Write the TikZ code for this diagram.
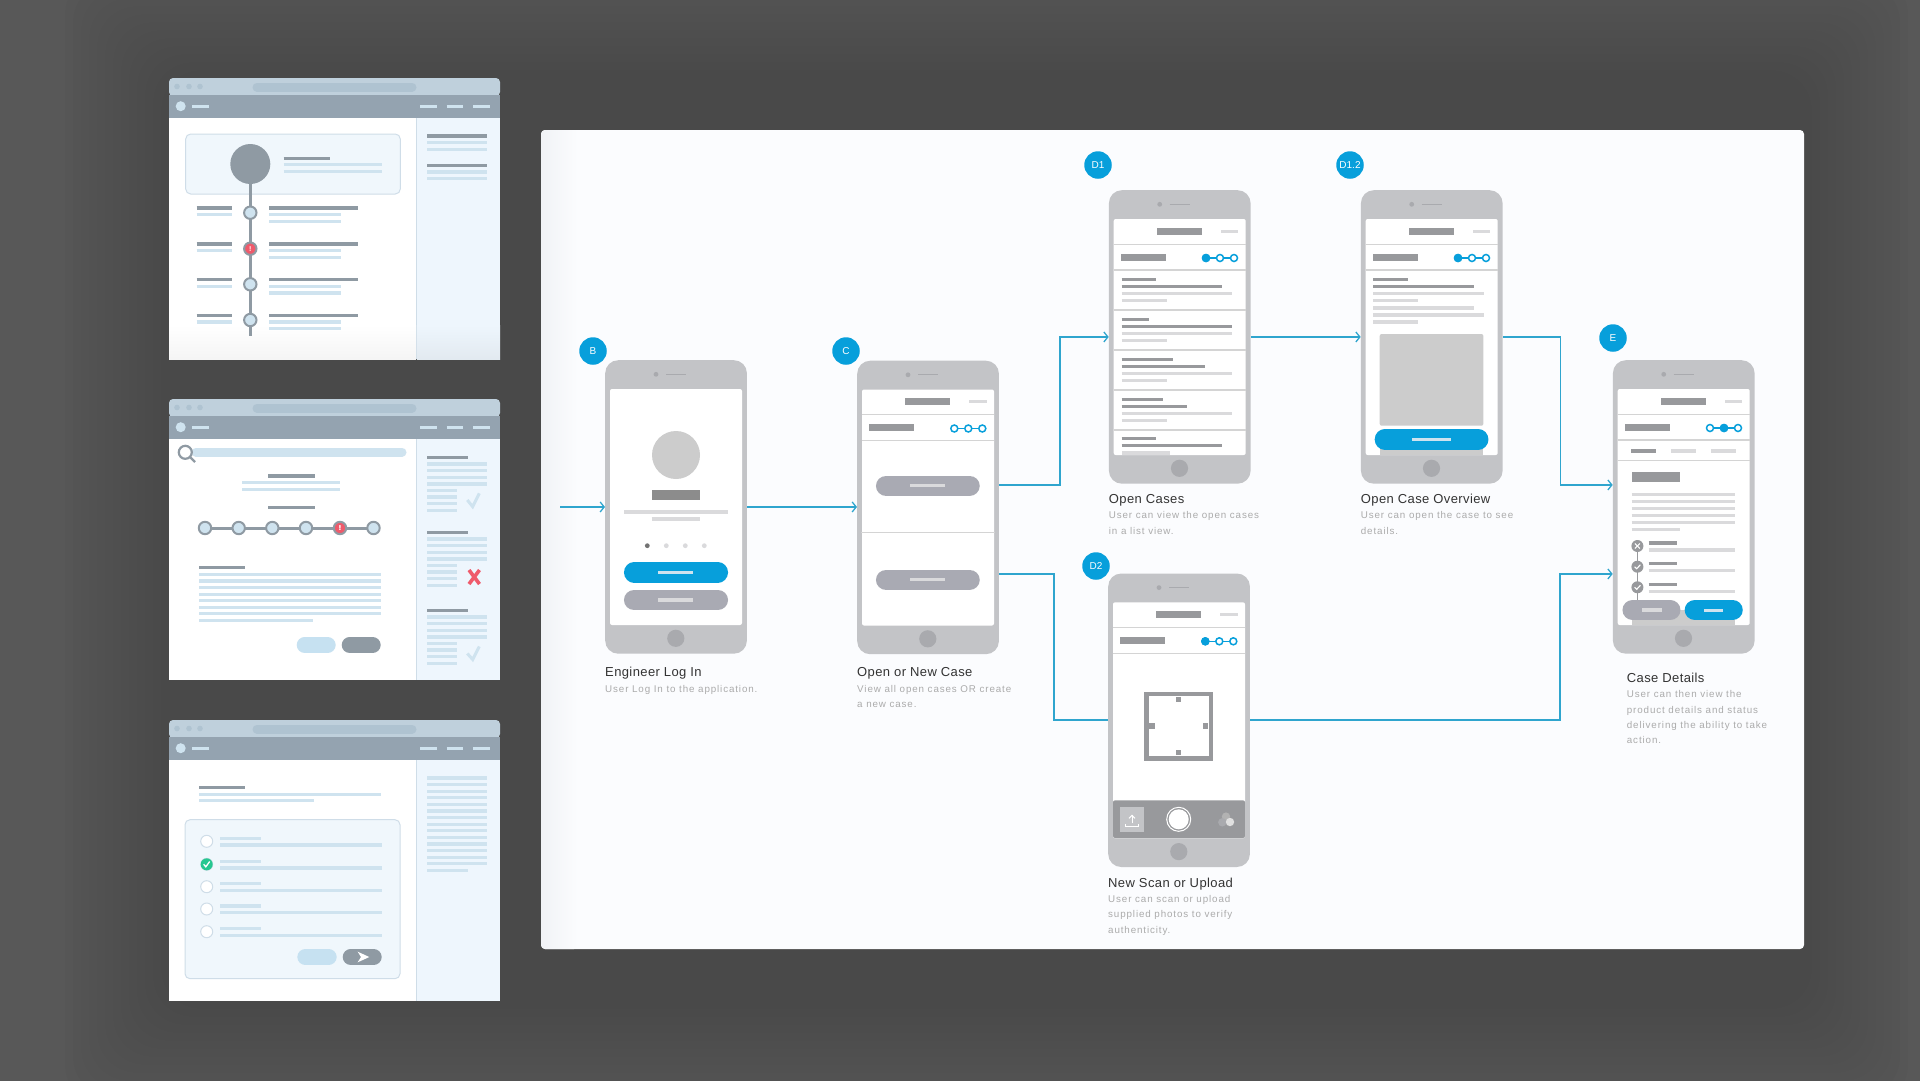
\documentclass[tikz,border=0pt]{standalone}
\usepackage{fontspec}
\setmainfont{Liberation Sans}
\newfontfamily\capfont[LetterSpace=3]{Liberation Sans}
\newfontfamily\notefont[LetterSpace=9]{Liberation Sans}
\usetikzlibrary{arrows.meta, calc, positioning}

\definecolor{bgdark}{HTML}{585858}
\definecolor{panelbg}{HTML}{FBFCFE}
\definecolor{panelside}{HTML}{F1F3F6}
\definecolor{wintitle}{HTML}{BFD0DC}
\definecolor{winurl}{HTML}{AFC3D1}
\definecolor{winnav}{HTML}{94A3B0}
\definecolor{windark}{HTML}{8F9AA3}
\definecolor{winlight}{HTML}{CFE3EF}
\definecolor{winside}{HTML}{EEF6FD}
\definecolor{wincard}{HTML}{F0F7FC}
\definecolor{winedge}{HTML}{CFDDE8}
\definecolor{winbtn}{HTML}{C6E1F1}
\definecolor{alertred}{HTML}{EF5A6B}
\definecolor{okgreen}{HTML}{26C790}
\definecolor{phbody}{HTML}{C3C4C7}
\definecolor{phmark}{HTML}{A9AAAE}
\definecolor{phdark}{HTML}{98999C}
\definecolor{phlight}{HTML}{DADADC}
\definecolor{phblue}{HTML}{079FDB}
\definecolor{phpillgrey}{HTML}{A9AAB3}
\definecolor{flowline}{HTML}{2FA5CE}

\tikzset{
  windk/.style={draw=windark, line width=3.1pt},
  winlt/.style={draw=winlight, line width=3.1pt},
  navlt/.style={draw=winlight, line width=3pt},
  winpill/.style={line width=16pt, line cap=round},
  phonebody/.style={anchor=north west, fill=phbody, rounded corners=13pt, minimum width=141.7pt, minimum height=293.5pt, inner sep=0pt},
  phdk/.style={draw=phdark, line width=3.1pt},
  phlt/.style={draw=phlight, line width=3.1pt},
  phrule/.style={draw=black!17, line width=1.1pt},
  phpill/.style={line width=20.5pt, line cap=round},
  badge/.style={circle, fill=phblue, minimum size=27.5pt, inner sep=0pt, text=white, font=\fontsize{10}{11}\selectfont},
  caption/.style={anchor=base west, inner sep=0pt, text=black!80, font=\capfont\fontsize{13}{15}\selectfont},
  note/.style={anchor=north west, inner sep=0pt, align=left, text=black!33, font=\notefont\fontsize{9.8}{15.3}\selectfont},
  flow/.style={draw=flowline, line width=1.7pt},
  flowtip/.style={flow, -{Straight Barb[length=4pt, width=10pt, line width=1.3pt]}},
}

% browser window, #1 is its top edge
\newcommand{\browserframe}[1]{
  \begin{scope}[shift={(0,#1)}]
    \fill[white] (169,17) rectangle (500,281);
    \fill[winside] (416,39) rectangle (500,281);
    \draw[winedge, line width=1pt] (416,39) -- (416,281);
    \fill[wintitle, rounded corners=4pt] (169,18) -- (169,0) -- (500,0) -- (500,18) -- cycle;
    \draw[winurl, line width=9pt, line cap=round] (257,9) -- (412,9);
    \foreach \dotx in {177,189,200}
      \fill[winurl] (\dotx,8.5) circle (2.8pt);
    \fill[winnav] (169,17) rectangle (500,39.5);
    \fill[winlight] (180.7,28.2) circle (5pt);
    \draw[navlt] (192,28.2) -- (208.7,28.2);
    \foreach \navx in {420.3,446.5,473}
      \draw[navlt] (\navx,28.2) -- ({\navx+16.5},28.2);
  \end{scope}
}
% camera, speaker, screen and home key, inside a phone's scope
\newcommand{\phoneparts}{
  \fill[phmark] (51,14.3) circle (2.4pt);
  \draw[phmark, line width=.9pt] (61,14.3) -- (81,14.3);
  \fill[white, rounded corners=2pt] (5,29) rectangle (137,265);
  \fill[phmark] (70.8,278.3) circle (8.6pt);
}
% title bars and the three stage rings
\newcommand{\phonehead}{
  \fill[phdark] (48.3,37.8) rectangle (93,44.8);
  \draw[phlt] (112.3,41.3) -- (129.7,41.3);
  \fill[phdark] (12,63.8) rectangle (57,70.8);
  \draw[phrule] (5,54.3) -- (137,54.3);
  \draw[phrule] (5,80) -- (137,80);
  \draw[phblue, line width=1.5pt] (97.3,68) -- (125.3,68);
  \foreach \ringx in {97.3,111.3,125.3}
    \draw[phblue, fill=white, line width=1.5pt] (\ringx,68) circle (3.5pt);
}
\newcommand{\winbubble}[3]{
  \draw[windark, line width=2pt, fill=#3] (#1,#2) circle (6.2pt);
}

\begin{document}
\begin{tikzpicture}[x=1pt, y=-1pt]
  \useasboundingbox (0,0) rectangle (1920,1080);
  \fill[bgdark] (-5,-5) rectangle (1925,1085);
  \foreach \spread in {8,16,...,104}
    \fill[black, opacity=.012, rounded corners=40pt] ({169-\spread},{78-\spread}) rectangle ({1804+\spread},{1001+\spread});

  % first window
  \browserframe{78}
  \shade[top color=white, bottom color=black!4] (169,325) rectangle (416,359);
  \shade[top color=winside, bottom color=black!5!winside] (417,325) rectangle (500,359);
  \draw[winedge, line width=1pt, fill=wincard, rounded corners=5pt] (185.7,134) rectangle (400.3,194);
  \draw[windark, line width=3pt] (250.3,164) -- (250.3,336);
  \fill[windark] (250.3,164) circle (20pt);
  \draw[windk] (283.7,158.3) -- (329.7,158.3);
  \foreach \liney in {164.7,171.3}
    \draw[winlt] (283.7,\liney) -- (381.7,\liney);
  \foreach \liney in {136,165.7}
    \draw[windk] (427,\liney) -- (487,\liney);
  \foreach \liney in {142.3,149.3,172,178.7}
    \draw[winlt] (427,\liney) -- (487,\liney);
  \foreach \rowy/\bub in {212.7/winlight,248.7/alertred,284.3/winlight,320/winlight} {
    \draw[windk] (196.7,\rowy-4.7) -- (231.7,\rowy-4.7);
    \draw[winlt] (196.7,\rowy+2) -- (231.7,\rowy+2);
    \draw[windk] (269,\rowy-4.7) -- (358.3,\rowy-4.7);
    \draw[winlt] (269,\rowy+2) -- (341,\rowy+2);
    \draw[winlt] (269,\rowy+8.7) -- (341,\rowy+8.7);
    \winbubble{250.3}{\rowy}{\bub}
  }
  \node[inner sep=0pt, text=white, font=\bfseries\fontsize{7}{7}\selectfont] (alertA) at (250.3,248.7) {!};

  % second window
  \browserframe{399}
  \draw[winlight, line width=9pt, line cap=round] (196,452) -- (402,452);
  \draw[windark, line width=2.2pt, fill=white] (185.3,452.3) circle (6.5pt);
  \draw[windark, line width=2.2pt] (190,457) -- (195,462);
  \foreach \liney in {476,507.7}
    \draw[windk] (268.3,\liney) -- (315,\liney);
  \foreach \liney in {482.7,489.3}
    \draw[winlt] (242,\liney) -- (340.3,\liney);
  \draw[windark, line width=3pt] (205,528) -- (373.5,528);
  \foreach \stopx/\bub in {205/winlight,238.7/winlight,272.3/winlight,306/winlight,340/alertred,373.5/winlight}
    \winbubble{\stopx}{528}{\bub}
  \node[inner sep=0pt, text=white, font=\bfseries\fontsize{7}{7}\selectfont] (alertB) at (340,528) {!};
  \draw[windk] (199,567.7) -- (245,567.7);
  \foreach \liney in {574.3,581,587.5,594.3,600.7,607.3,613.7}
    \draw[winlt] (199,\liney) -- (380.7,\liney);
  \draw[winlt] (199,620.3) -- (313,620.3);
  \draw[winbtn, winpill] (304.7,645) -- (327.7,645);
  \draw[windark, winpill] (349.7,645) -- (372.7,645);
  \foreach \blocky in {457.3,532.3,610.3} {
    \draw[windk] (427,\blocky) -- (468.3,\blocky);
    \foreach \stepy in {6.7,13.2,20,26.7}
      \draw[winlt] (427,\blocky+\stepy) -- (487,\blocky+\stepy);
    \foreach \stepy in {33,39.7,46.2,52.9}
      \draw[winlt] (427,\blocky+\stepy) -- (457,\blocky+\stepy);
  }
  \draw[winlight, line width=3pt] (467.3,500) -- (472.7,506.7) -- (479.3,493.3);
  \draw[winlight, line width=3pt] (467.3,653.5) -- (472.7,659.5) -- (479.3,646.5);
  \draw[alertred, line width=3.6pt] (469,570) -- (479.5,584);
  \draw[alertred, line width=3.6pt] (479.5,570) -- (469,584);

  % third window
  \browserframe{720}
  \draw[windk] (199,787.7) -- (245,787.7);
  \draw[winlt] (199,794.3) -- (380.7,794.3);
  \draw[winlt] (199,800.7) -- (314,800.7);
  \draw[winedge, line width=1pt, fill=wincard, rounded corners=5pt] (185,819.7) rectangle (400,978.7);
  \foreach \liney in {778,784.6,...,864}
    \draw[winlt] (427,\liney) -- (487,\liney);
  \draw[winlt] (427,870.3) -- (468,870.3);
  \foreach \rowy in {841.3,864.3,886.7,909,931.7} {
    \draw[winedge, line width=1pt, fill=white] (206.7,\rowy) circle (6pt);
    \draw[winlt] (220,\rowy-3) -- (260.7,\rowy-3);
    \draw[winlt] (220,\rowy+3.7) -- (381.7,\rowy+3.7);
  }
  \fill[okgreen] (206.7,864.3) circle (6pt);
  \draw[white, line width=1.3pt] (203.7,864.3) -- (205.8,866.8) -- (209.7,861.5);
  \draw[winbtn, winpill] (305.3,957) -- (328.7,957);
  \draw[windark, winpill] (350.7,957) -- (373.7,957);
  \fill[white] (357.7,951.7) -- (369.3,957) -- (357.7,962.3) -- (361,957) -- cycle;

  % sheet behind the phones
  \fill[panelbg, rounded corners=4pt] (541,130) rectangle (1804,949);
  \shade[left color=panelside, right color=panelbg, rounded corners=4pt] (541,130) rectangle (578,949);

  \node[phonebody] (B) at (605,360) {};
  \node[phonebody] (C) at (857,360.5) {};
  \node[phonebody] (D1) at (1108.7,190) {};
  \node[phonebody] (D12) at (1360.7,190) {};
  \node[phonebody] (D2) at (1108,573.3) {};
  \node[phonebody] (E) at (1612.7,360) {};

  \node[badge] (tagB) at (593,351) {B};
  \node[badge] (tagC) at (846,351) {C};
  \node[badge] (tagD1) at (1098,165) {D1};
  \node[badge] (tagD12) at (1350,165) {D1.2};
  \node[badge] (tagD2) at (1096,566) {D2};
  \node[badge] (tagE) at (1613,338) {E};

  \begin{scope}[shift={(B.north west)}]
    \phoneparts
    \fill[black!20] (71,95) circle (24pt);
    \fill[black!45] (46.7,129.7) rectangle (95.3,140);
    \draw[phlt] (19,152) -- (123,152);
    \draw[phlt] (46.7,159) -- (95.3,159);
    \fill[black!55] (42.3,185.7) circle (2.4pt);
    \foreach \dotx in {61.3,80.3,99.3}
      \fill[phlight] (\dotx,185.7) circle (2.4pt);
    \draw[phblue, phpill] (29.2,212.3) -- (112.8,212.3);
    \draw[phpillgrey, phpill] (29.2,240) -- (112.8,240);
    \draw[winlight, line width=3pt] (53.3,212.3) -- (88.3,212.3);
    \draw[phlt] (53.3,240) -- (88.3,240);
  \end{scope}

  \begin{scope}[shift={(C.north west)}]
    \phoneparts
    \phonehead
    \draw[phrule] (4,172.3) -- (138,172.3);
    \foreach \liney in {125.3,219.3} {
      \draw[phpillgrey, phpill] (29.2,\liney) -- (112.5,\liney);
      \draw[phlt] (53.3,\liney) -- (88.3,\liney);
    }
  \end{scope}

  \begin{scope}[shift={(D1.north west)}]
    \phoneparts
    \phonehead
    \fill[phblue] (97.3,68) circle (4.2pt);
    \foreach \rowy/\endA/\endB in {89.7/47.3/113,129.7/40.7/123.7,169.7/64.7/96,209.7/54.7/78.7,248.7/47.3/113} {
      \draw[phdk] (13,\rowy) -- (\endA,\rowy);
      \draw[phdk] (13,\rowy+7) -- (\endB,\rowy+7);
    }
    \foreach \rowy in {89.7,129.7,169.7,209.7} {
      \draw[phlt] (13,\rowy+14) -- (123.7,\rowy+14);
      \draw[phlt] (13,\rowy+21) -- (58,\rowy+21);
    }
    \fill[phlight] (13,261.3) rectangle (61,265);
    \foreach \liney in {120,160,200,240}
      \draw[phrule] (5,\liney) -- (137,\liney);
  \end{scope}

  \begin{scope}[shift={(D12.north west)}]
    \phoneparts
    \phonehead
    \fill[phblue] (97.3,68) circle (4.2pt);
    \draw[phdk] (12.7,89.7) -- (47,89.7);
    \draw[phdk] (12.7,96.7) -- (113,96.7);
    \draw[phlt] (12.7,103.7) -- (123.7,103.7);
    \draw[phlt] (12.7,110.7) -- (57.7,110.7);
    \draw[phlt] (12.7,118) -- (113,118);
    \draw[phlt] (12.7,125) -- (123.7,125);
    \draw[phlt] (12.7,132) -- (57.7,132);
    \fill[black!20, rounded corners=2pt] (19,144) rectangle (122.7,235.7);
    \fill[black!20] (19,250) rectangle (122.7,265);
    \draw[phblue, phpill] (24.2,249.3) -- (117.5,249.3);
    \draw[winlight, line width=3pt] (51.7,249.3) -- (90,249.3);
  \end{scope}

  \begin{scope}[shift={(D2.north west)}]
    \phoneparts
    \phonehead
    \fill[phblue] (97.3,68) circle (4.2pt);
    \draw[phdark, line width=4.6pt] (38.3,120.6) rectangle (103,185.4);
    \foreach \tickx/\ticky in {70.7/126.3,44/152.7,97.3/152.7,70.7/179.3}
      \fill[phdark] (\tickx-2.6,\ticky-2.6) rectangle (\tickx+2.6,\ticky+2.6);
    \fill[phdark, rounded corners=2pt] (5,227) rectangle (137,264.7);
    \fill[phbody] (12,234) rectangle (36.3,258.3);
    \draw[white, line width=1pt] (24,250) -- (24,242);
    \draw[white, line width=1pt] (21,245) -- (24,242) -- (27,245);
    \draw[white, line width=1pt] (17.5,250.5) -- (17.5,253) -- (30.5,253) -- (30.5,250.5);
    \draw[white, line width=1pt] (70.7,246) circle (12pt);
    \fill[white] (70.7,246) circle (10pt);
    \fill[black!30] (118,243.3) circle (4.2pt);
    \fill[phmark] (114.3,249) circle (4.2pt);
    \fill[black!12] (122,248.7) circle (4.2pt);
  \end{scope}

  \begin{scope}[shift={(E.north west)}]
    \phoneparts
    \phonehead
    \fill[phblue] (111.3,68) circle (4.2pt);
    \draw[phrule] (5,100.3) -- (137,100.3);
    \draw[phdk] (18.3,91) -- (43.3,91);
    \draw[phlt] (58.3,91) -- (83,91);
    \draw[phlt] (98.3,91) -- (123.3,91);
    \fill[phdark] (19,112.3) rectangle (67.3,122.3);
    \foreach \liney in {134.7,141.6,148.3,155.3,162.3}
      \draw[phlt] (19,\liney) -- (122.7,\liney);
    \draw[phlt] (19,169.3) -- (67.3,169.3);
    \draw[phdark, line width=1.2pt] (24.7,186) -- (24.7,245);
    \foreach \stopy in {186,206.7,227.3} {
      \fill[phdark] (24.7,\stopy) circle (6pt);
      \draw[phdk] (36,\stopy-3) -- (64,\stopy-3);
      \draw[phlt] (36,\stopy+4) -- (122.7,\stopy+4);
    }
    \draw[white, line width=1.1pt] (22.2,183.5) -- (27.2,188.5);
    \draw[white, line width=1.1pt] (27.2,183.5) -- (22.2,188.5);
    \foreach \stopy in {206.7,227.3}
      \draw[white, line width=1.1pt] (21.9,\stopy) -- (24,\stopy+2) -- (27.7,\stopy-2);
    \fill[black!20] (19,250) rectangle (122.7,265);
    \draw[phpillgrey, phpill] (20,250) -- (57.5,250);
    \draw[phblue, phpill] (82.2,250) -- (119.8,250);
    \draw[phlt] (29.3,250) -- (49,250);
    \draw[winlight, line width=3pt] (91.3,250) -- (110.7,250);
  \end{scope}

  % connectors
  \coordinate (entry) at (560,507);
  \coordinate (Cup) at ($(C.east)+(0,-22.5)$);
  \coordinate (Cdown) at ($(C.east)+(0,66.5)$);
  \coordinate (Eup) at ($(E.west)+(0,-22)$);
  \coordinate (Edown) at ($(E.west)+(0,67)$);
  \draw[flowtip] (entry) -- (B.west);
  \draw[flowtip] (B.east) -- (B.east -| C.west);
  \draw[flowtip] (Cup) -| ($(D1.west)+(-49,0)$) -- (D1.west);
  \draw[flow] (Cdown) -| ($(D2.west)+(-54,0)$) -- (D2.west);
  \draw[flowtip] (D1.east) -- (D12.west);
  \draw[flowtip] (D12.east) -- ++(57.6,0) |- (Eup);
  \draw[flowtip] (D2.east) -| ($(Edown)+(-52.7,0)$) -- (Edown);

  % captions
  \node[caption] (capB) at (605,676.7) {Engineer Log In};
  \node[note] (noteB) at (605,685.3) {User Log In to the application.};
  \node[caption] (capC) at (857,676.7) {Open or New Case};
  \node[note] (noteC) at (857,685.3) {View all open cases OR create\\a new case.};
  \node[caption] (capD1) at (1108.7,503.3) {Open Cases};
  \node[note] (noteD1) at (1108.7,511.5) {User can view the open cases\\in a list view.};
  \node[caption] (capD12) at (1360.7,503.3) {Open Case Overview};
  \node[note] (noteD12) at (1360.7,511.5) {User can open the case to see\\details.};
  \node[caption] (capD2) at (1108,887.3) {New Scan or Upload};
  \node[note] (noteD2) at (1108,895.3) {User can scan or upload\\supplied photos to verify\\authenticity.};
  \node[caption] (capE) at (1626.7,682.3) {Case Details};
  \node[note] (noteE) at (1626.7,690.6) {User can then view the\\product details and status\\delivering the ability to take\\action.};
\end{tikzpicture}
\end{document}
